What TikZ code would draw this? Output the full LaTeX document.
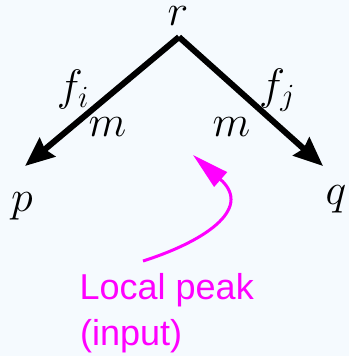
\RequirePackage{fix-cm}
\documentclass[tikz,border=0pt]{standalone}
\usepackage{fontspec}
\newfontfamily\lsans{Liberation Sans}
\usetikzlibrary{arrows.meta}
\definecolor{bgc}{RGB}{245,250,254}
\definecolor{mag}{RGB}{255,0,255}
\begin{document}
\begin{tikzpicture}[x=1pt,y=-1pt,
  mathlbl/.style={inner sep=0pt,anchor=base,font=\fontsize{44}{48}\selectfont},
  branch/.style={line width=6pt,line cap=butt,-{Stealth[length=29pt,width=24pt,inset=3pt]}},
  note/.style={inner sep=0pt,anchor=base west,text=mag,font=\lsans\fontsize{36}{40}\selectfont},
  pointer/.style={mag,line width=3pt,-{Triangle[length=37pt,width=19pt]}}]
\fill[bgc] (0,0) rectangle (349,356);
\useasboundingbox (0,0) rectangle (349,356);
\node[mathlbl] (r) at (178,25.5) {$r$};
\node[mathlbl] (p) at (22,211) {$p$};
\node[mathlbl] (q) at (336,204) {$q$};
\node[mathlbl] (fi) at (73,100.5) {$f_i$};
\node[mathlbl] (fj) at (277,99) {$f_j$};
\node[mathlbl] (m1) at (107.5,136) {$m$};
\node[mathlbl] (m2) at (231.5,136) {$m$};
\coordinate (apex) at (179,37);
\coordinate (lt) at (25,166);
\coordinate (rt) at (323,166);
\draw[branch] (apex) -- (lt);
\draw[branch] (apex) -- (rt);
\node[note] (l1) at (79.5,299) {Local peak};
\node[note] (l2) at (80,345) {(input)};
\coordinate (cs) at (143,261);
\coordinate (ct) at (193,155);
\draw[pointer] (cs) .. controls (200,243) and (255,210) .. (ct);
\end{tikzpicture}
\end{document}
